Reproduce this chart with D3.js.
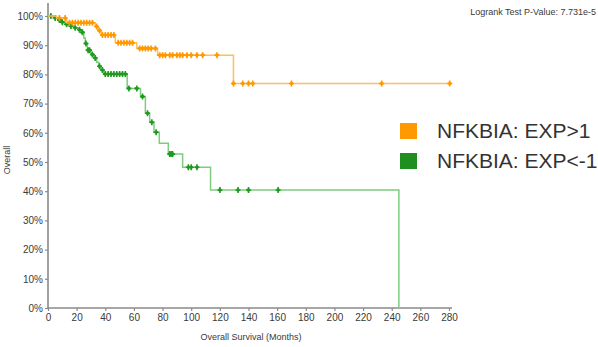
<!DOCTYPE html>
<html><head><meta charset="utf-8">
<script src="https://cdn.jsdelivr.net/npm/d3@7"></script>
<style>body{margin:0;background:#fff;font-family:"Liberation Sans",Arial,sans-serif}</style>
</head><body><svg id="c" width="598" height="347"></svg>
<script>
// Kaplan-Meier step events: [months, survival %]
const orangeSteps = [[0,100],[6,99.3],[13,97.7],[33,96.4],[35,95],[37,93.5],[47,90.8],[62,88.9],[76.5,86.6],[129.5,76.9],[280.5,76.9]];
const orangeCensor = [8,12,15,17,19,21,23,25,27,29,31,34,36,38,40,42,44,46,49,51,53,55,57,59,64,66,68,70,72,75,78,80,82,85,87,90,92,94,97,100,104,108,118,129.5,136,140,143,170,233,280.5];
const greenSteps = [[0,100],[4,99.3],[7,98.6],[9,97.9],[12,97.2],[15,96.6],[18,96],[21,95.3],[23.5,94.4],[25,92.5],[26,90.6],[27.5,88.3],[30,86.8],[32,85.6],[34,84.2],[35.5,82.8],[37,81.5],[39,80.1],[55.3,75.2],[64.6,72.4],[68,66.7],[71,63.6],[74,60.2],[77.7,56.4],[84,52.7],[94,48.2],[113.5,40.4],[245,0]];
const greenCensor = [2,5,8,10,13,16,19,22,24,26.5,28,29,31,33,36,38,40,42,44,46,48,50,52,54,56.5,62,66,69.5,72.5,75.5,85,86,87,98,100,104,120,132.7,140,160.7];
const xTicks = [0,20,40,60,80,100,120,140,160,180,200,220,240,260,280];
const yTicks = [0,10,20,30,40,50,60,70,80,90,100];
const legendLabels = ["NFKBIA: EXP>1","NFKBIA: EXP<-1"];
const pValueText = "Logrank Test P-Value: 7.731e-5";

const svg = d3.select("#c");
const x = d3.scaleLinear().domain([0,280]).range([48,449]);
const y = d3.scaleLinear().domain([0,100]).range([308,16]);
const axisCol = "#8a8a8a", textCol = "#3a3a3a";

// axes
const gx = svg.append("g").attr("transform","translate(0,308)")
  .call(d3.axisBottom(x).tickValues(xTicks).tickSize(3).tickSizeOuter(0).tickPadding(3));
const gy = svg.append("g").attr("transform","translate(48,0)")
  .call(d3.axisLeft(y).tickValues(yTicks).tickFormat(d=>d+"%").tickSize(3).tickSizeOuter(0).tickPadding(2));
[gx,gy].forEach(g=>{
  g.select(".domain").remove();
  g.selectAll(".tick line").attr("stroke",axisCol).attr("stroke-width",1.2);
  g.selectAll(".tick text").attr("fill",textCol).attr("font-size","10px").attr("font-family","Liberation Sans, Arial, sans-serif");
});
svg.append("line").attr("x1",48).attr("x2",48).attr("y1",3).attr("y2",308.5).attr("stroke",axisCol).attr("stroke-width",1.6);
svg.append("line").attr("x1",47.5).attr("x2",452).attr("y1",308).attr("y2",308).attr("stroke",axisCol).attr("stroke-width",1.6);

svg.append("text").attr("x",251).attr("y",340).attr("text-anchor","middle")
  .attr("font-size","9px").attr("fill",textCol).text("Overall Survival (Months)");
svg.append("text").attr("transform","translate(10,160) rotate(-90)").attr("text-anchor","middle")
  .attr("font-size","9px").attr("fill",textCol).text("Overall");
svg.append("text").attr("x",596).attr("y",15).attr("text-anchor","end")
  .attr("font-size","9px").attr("fill",textCol).text(pValueText);

const line = d3.line().x(d=>x(d[0])).y(d=>y(d[1])).curve(d3.curveStepAfter);
function survAt(steps,t){let v=steps[0][1];for(const s of steps){if(s[0]<=t)v=s[1];}return v;}
function drawSeries(steps,censor,lineCol,markCol){
  svg.append("path").datum(steps).attr("d",line).attr("fill","none")
    .attr("stroke",lineCol).attr("stroke-width",1.5);
  const g = svg.append("g");
  censor.forEach(t=>{
    const cx=x(t), cy=y(survAt(steps,t));
    g.append("path").attr("d",`M${cx-2.5},${cy}H${cx+2.5}M${cx},${cy-3}V${cy+3}`)
      .attr("stroke",markCol).attr("stroke-width",1.6).attr("fill","none");
    g.append("circle").attr("cx",cx).attr("cy",cy).attr("r",1.8).attr("fill",markCol);
  });
}
drawSeries(greenSteps,greenCensor,"#7fcc7f","#1f9a1f");
drawSeries(orangeSteps,orangeCensor,"#ffbd5c","#ff9900");

// legend
const legCols = ["#ff9900","#1f8f1f"];
legendLabels.forEach((lab,i)=>{
  const ly = 123 + i*30;
  svg.append("rect").attr("x",400).attr("y",ly).attr("width",17).attr("height",16).attr("fill",legCols[i]);
  svg.append("text").attr("x",437).attr("y",ly+15).attr("font-size","21px").attr("fill","#333").text(lab);
});
</script></body></html>
